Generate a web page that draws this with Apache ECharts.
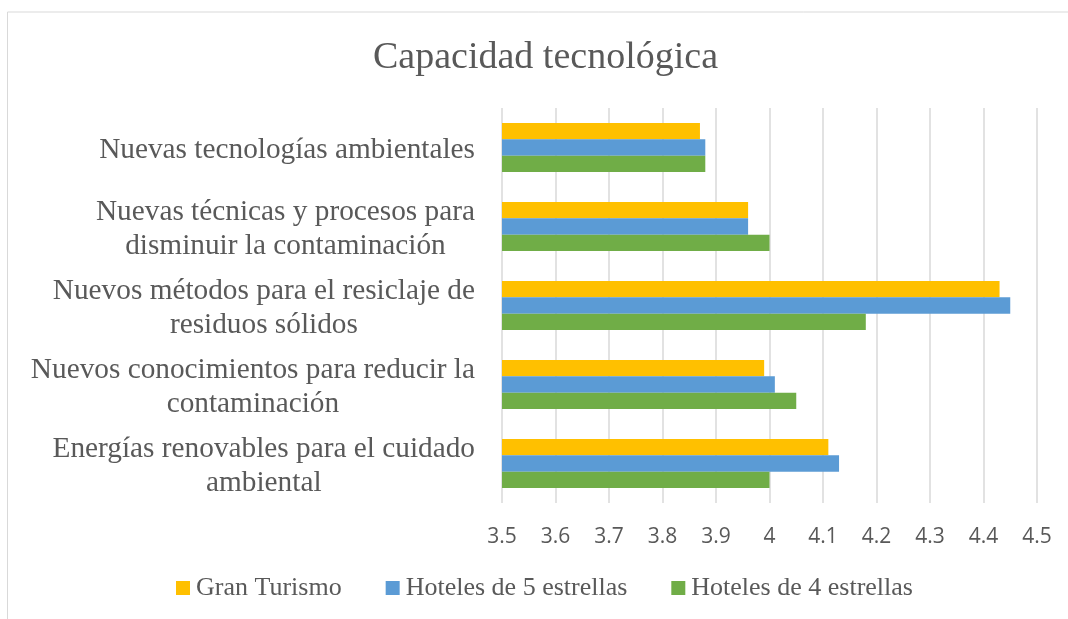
<!DOCTYPE html>
<html>
<head>
<meta charset="utf-8">
<script src="https://cdn.jsdelivr.net/npm/echarts@6/dist/echarts.min.js"></script>
<style>
html,body{margin:0;padding:0;background:#fff;}
#c{width:1068px;height:619px;}
</style>
</head>
<body>
<div id="c"></div>
<script>
// Categories from top to bottom
const categories = [
  "Nuevas tecnologías ambientales",
  "Nuevas técnicas y procesos para\ndisminuir la contaminación",
  "Nuevos métodos para el resiclaje de\nresiduos sólidos",
  "Nuevos conocimientos para reducir la\ncontaminación",
  "Energías renovables para el cuidado\nambiental"
];
const seriesNames = ["Gran Turismo", "Hoteles de 5 estrellas", "Hoteles de 4 estrellas"];
const granTurismo = [3.87, 3.96, 4.43, 3.99, 4.11];
const hoteles5 = [3.88, 3.96, 4.45, 4.01, 4.13];
const hoteles4 = [3.88, 4.00, 4.18, 4.05, 4.00];
const xTicks = { min: 3.5, max: 4.5, interval: 0.1 };

const colors = ["#FFC000", "#5B9BD5", "#70AD47"];
const chart = echarts.init(document.getElementById('c'));
const serif = "'Liberation Serif', 'Times New Roman', serif";
const mk = (name, data, color) => ({
  name: name, type: 'bar', data: data, barWidth: 16.3, barGap: '0%',
  itemStyle: { color: color }
});
chart.setOption({
  animation: false,
  color: colors,
  graphic: [{
    type: 'rect', silent: true,
    shape: { x: 7.5, y: 12, width: 1200, height: 800 },
    style: { fill: 'none', stroke: '#D9D9D9', lineWidth: 1 }
  }],
  title: {
    text: 'Capacidad tecnológica',
    left: 368, top: 34,
    textStyle: { fontFamily: serif, fontSize: 38, fontWeight: 'normal', color: '#595959' }
  },
  legend: {
    data: seriesNames,
    left: 176, top: 575, padding: 0,
    icon: 'rect', itemWidth: 14, itemHeight: 14, itemGap: 44,
    textStyle: { fontFamily: serif, fontSize: 26, color: '#595959', padding: [0, 0, 0, 1] }
  },
  grid: { left: 502, right: 31, top: 108, bottom: 116, containLabel: false },
  xAxis: {
    type: 'value', min: xTicks.min, max: xTicks.max, interval: xTicks.interval,
    axisLine: { show: false }, axisTick: { show: false },
    splitLine: { show: true, lineStyle: { color: '#D9D9D9', width: 1.5 } },
    axisLabel: {
      margin: 24, color: '#595959', fontFamily: "'Open Sans', sans-serif", fontSize: 21,
      formatter: v => String(Math.round(v * 10) / 10)
    }
  },
  yAxis: {
    type: 'category', data: categories, inverse: true,
    axisLine: { show: false }, axisTick: { show: false },
    axisLabel: {
      margin: 27, align: 'right', padding: [6, 0, 0, 0],
      formatter: v => v.split('\n').map(s => '{c|' + s + '}').join('\n'),
      rich: {
        c: { align: 'center', fontFamily: serif, fontSize: 29.3, color: '#595959', lineHeight: 34 }
      }
    }
  },
  series: [
    mk(seriesNames[0], granTurismo, colors[0]),
    mk(seriesNames[1], hoteles5, colors[1]),
    mk(seriesNames[2], hoteles4, colors[2])
  ]
});
</script>
</body>
</html>
